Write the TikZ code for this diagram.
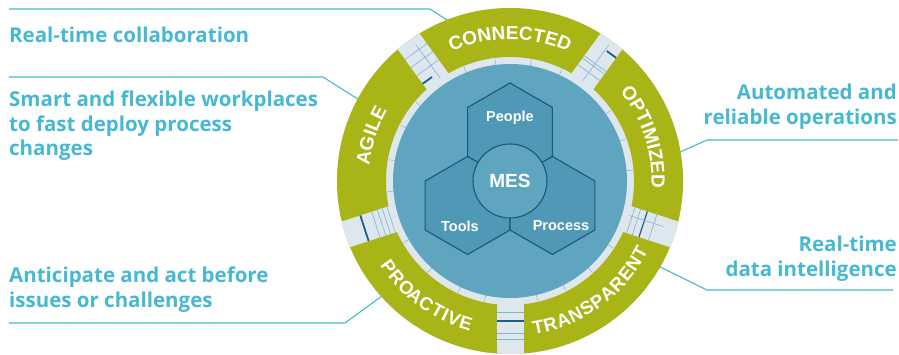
\documentclass[tikz,border=0pt]{standalone}
\usepackage{fontspec}
\setmainfont{Liberation Sans}
\newfontfamily\descfont{Open Sans}
\usetikzlibrary{calc,shapes.geometric,decorations.text}

\definecolor{leafgreen}{HTML}{A9B416}
\definecolor{discblue}{HTML}{5FA5C0}
\definecolor{hexblue}{HTML}{4F98B6}
\definecolor{hexline}{HTML}{1B5878}
\definecolor{ringgrey}{HTML}{DEE7ED}
\definecolor{infocyan}{HTML}{46B8D2}
\definecolor{gapline}{HTML}{82B3CC}
\definecolor{gapdark}{HTML}{1D5F86}

\tikzset{
	hexcell/.style={regular polygon, regular polygon sides=6, shape border rotate=30, minimum size=98pt, inner sep=0pt, fill=hexblue, draw=hexline, line width=1.1pt},
	mesdisc/.style={circle, minimum size=74pt, inner sep=0pt, fill=discblue, draw=hexline, line width=1.1pt, text=white, font=\bfseries\fontsize{19}{19}\selectfont},
	celltext/.style={text=white, font=\bfseries\fontsize{14.5}{14.5}\selectfont},
	desc/.style={inner sep=0pt, text=infocyan, font=\descfont\bfseries\fontsize{20.5}{24.5}\selectfont},
	leader/.style={draw=infocyan, line width=1.1pt},
	ringlabel/.style={decorate, decoration={text along path, text align=center, text color=white, text={|\bfseries\fontsize{19}{19}\selectfont|#1}}},
	lowlabel/.style={decorate, decoration={text along path, text align=center, text color=white, text={|\bfseries\fontsize{18.5}{18.5}\selectfont|#1}}},
	thinmark/.style={gapline, line width=0.6pt},
	darkmark/.style={gapdark, line width=1.8pt},
}

\begin{document}
\begin{tikzpicture}[x=1pt,y=1pt]
	\useasboundingbox (0,0) rectangle (899,355);
	\coordinate (C) at (510,174);
	\fill[ringgrey] (C) circle[radius=173];
	\fill[leafgreen, even odd rule] (C) circle[radius=173] (C) circle[radius=124];
	\begin{scope}
		\clip (C) circle[radius=173];
		\foreach \a in {54,126,198,270,342}
			\fill[ringgrey, shift={(C)}, rotate=\a] (119,-13.5) rectangle (176,13.5);
	\end{scope}

	\begin{scope}[shift={(C)}, rotate=270]
		\foreach \r in {131,152,158} \draw[thinmark] (\r,-13.5) -- (\r,13.5);
		\draw[darkmark] (140,-13.5) -- (140,13.5);
	\end{scope}
	\begin{scope}[shift={(C)}, rotate=198]
		\foreach \r in {125,130,135,141} \draw[thinmark] (\r,-13.5) -- (\r,13.5);
		\draw[darkmark] (153,-13.5) -- (153,13.5);
	\end{scope}
	\begin{scope}[shift={(C)}, rotate=342]
		\foreach \r in {127,133,150} \draw[thinmark] (\r,-13.5) -- (\r,13.5);
		\draw[darkmark, line width=1.2pt] (140,-13.5) -- (140,13.5);
		\draw[thinmark] (124,4) -- (160,4);
	\end{scope}
	\begin{scope}[shift={(C)}, rotate=54]
		\foreach \r in {134,142,145} \draw[thinmark] (\r,-13.5) -- (\r,13.5);
		\draw[darkmark] (162,-13.5) -- (162,-2);
		\draw[thinmark] (124,0) -- (168,0);
	\end{scope}
	\begin{scope}[shift={(C)}, rotate=126]
		\foreach \r in {140,150,160} \draw[thinmark] (\r,-13.5) -- (\r,13.5);
		\draw[thinmark] (124,-4) -- (166,-4);
		\draw[darkmark] (130,2) -- (130,13.5);
	\end{scope}

	\fill[discblue] (C) circle[radius=117];
	\foreach \t in {5,20,35,65,80,97,112,140,153,170,185,210,228,245,258,283,297,312,327}
		\draw[gapline, line width=0.5pt] ($(C)+(\t:117)$) -- ($(C)+(\t:123)$);

	\node[hexcell] (people) at ($(C)+(90:49)$) {};
	\node[hexcell] (tools) at ($(C)+(210:49)$) {};
	\node[hexcell] (process) at ($(C)+(330:49)$) {};
	\node[mesdisc] (mes) at (C) {MES};
	\node[celltext] (peoplet) at (510,237) {People};
	\node[celltext] (toolst) at (460,129) {Tools};
	\node[celltext] (processt) at (561,129) {Process};

	\path[ringlabel=CONNECTED] ($(C)+(130:141.5)$) arc[start angle=130, end angle=50, radius=141.5];
	\path[ringlabel=AGILE] ($(C)+(197:141.5)$) arc[start angle=197, end angle=127, radius=141.5];
	\path[ringlabel=OPTIMIZED] ($(C)+(53:141.5)$) arc[start angle=53, end angle=-17, radius=141.5];
	\path[lowlabel={{P\kern1pt}{R\kern1pt}{O\kern-1.5pt}{A\kern1pt}{C\kern1.5pt}{T\kern1pt}{I\kern1pt}{V\kern1pt}E}] ($(C)+(194:155)$) arc[start angle=194, end angle=274, radius=155];
	\path[lowlabel={{T\kern.7pt}{R\kern.7pt}{A\kern.7pt}{N\kern.7pt}{S\kern.7pt}{P\kern.7pt}{A\kern.7pt}{R\kern.7pt}{E\kern.7pt}{N\kern.7pt}T}] ($(C)+(266:155)$) arc[start angle=266, end angle=346, radius=155];

	\node[desc, anchor=north west, align=left] (collab) at (9,328) {Real-time collaboration};
	\node[desc, anchor=north west, align=left] (workplace) at (9,264) {Smart and flexible workplaces\\to fast deploy process\\changes};
	\node[desc, anchor=north west, align=left] (anticipate) at (9,88) {Anticipate and act before\\issues or challenges};
	\node[desc, anchor=north east, align=right] (automated) at (897,271) {Automated and\\reliable operations};
	\node[desc, anchor=north east, align=right] (dataint) at (897,119) {Real-time\\data intelligence};

	\coordinate (collabl) at (9,346);
	\coordinate (collabk) at (430,346);
	\coordinate (collabr) at ($(C)+(111.4:173)$);
	\coordinate (workl) at (9,278);
	\coordinate (workk) at (323,278);
	\coordinate (workr) at ($(C)+(151.7:173)$);
	\coordinate (antl) at (9,32);
	\coordinate (antk) at (345,32);
	\coordinate (antr) at ($(C)+(221.9:173)$);
	\coordinate (autol) at (898,215);
	\coordinate (autok) at (707,215);
	\coordinate (autor) at ($(C)+(9.7:173)$);
	\coordinate (datal) at (893,65);
	\coordinate (datak) at (707,65);
	\coordinate (datar) at ($(C)+(330.2:173)$);
	\draw[leader] (collabl) -- (collabk) -- (collabr);
	\draw[leader] (workl) -- (workk) -- (workr);
	\draw[leader] (antl) -- (antk) -- (antr);
	\draw[leader] (autol) -- (autok) -- (autor);
	\draw[leader] (datal) -- (datak) -- (datar);
\end{tikzpicture}
\end{document}
